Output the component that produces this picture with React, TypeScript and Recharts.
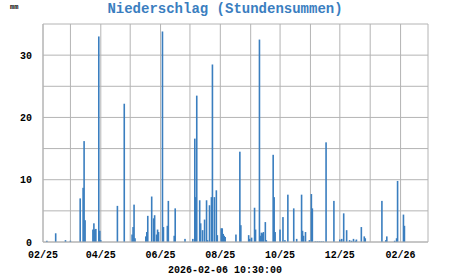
import React from "react";
import { BarChart, Bar, XAxis, YAxis, CartesianGrid } from "recharts";

// day offsets from 2025-02-01
const days = [
  4, 13, 23, 28, 38, 41, 42, 43, 51, 52, 53, 54, 57, 58, 59, 76, 83, 91, 92, 93, 94,
  105, 106, 107, 111, 113, 114, 116, 117, 118, 122, 123, 127, 128, 134, 135, 145,
  153, 155, 156, 157, 160, 161, 163, 165, 167, 168, 170, 172, 173, 175, 177, 178,
  182, 183, 184, 185, 186, 197, 201, 202, 210, 211, 213, 216, 217, 221, 222, 223,
  224, 225, 227, 228, 235, 236, 237, 242, 245, 247, 250, 256, 259, 264, 265, 266,
  268, 272, 274, 275, 278, 280, 282, 284, 286, 289, 297, 303, 305, 307, 310, 313,
  315, 317, 319, 320, 325, 328, 329, 346, 350, 351, 359, 361, 362, 368, 369,
];
const values = [
  0.2, 1.4, 0.3, 0.2, 7.0, 8.7, 16.2, 3.5, 2.0, 3.0, 2.0, 2.1, 33.0, 1.8, 0.3, 5.8, 22.2, 1.2, 2.4, 6.0, 0.6,
  0.9, 1.6, 4.2, 7.3, 3.8, 4.3, 1.2, 2.0, 1.6, 33.8, 2.4, 2.6, 6.6, 1.0, 5.4, 0.5,
  0.5, 16.6, 7.2, 23.5, 6.7, 3.0, 1.9, 3.6, 6.7, 0.3, 5.9, 7.2, 28.5, 7.2, 8.3, 1.1,
  2.2, 2.2, 1.3, 1.0, 0.8, 1.2, 14.5, 2.7, 1.1, 0.5, 0.7, 5.5, 2.0, 32.5, 1.0, 1.5,
  1.4, 1.6, 3.2, 0.3, 14.0, 7.2, 1.6, 2.0, 4.0, 0.3, 7.6, 5.4, 0.5, 7.6, 1.8, 1.0,
  1.6, 0.3, 7.7, 5.4, 0.1, 0.1, 0.1, 0.1, 0.1, 16.0, 6.6, 0.4, 0.5, 4.6, 1.9, 0.3,
  0.2, 0.5, 0.2, 0.4, 2.4, 0.9, 0.6, 6.6, 0.3, 0.9, 0.2, 0.6, 9.8, 4.4, 2.6,
];
// first day of each month, Feb 2025 .. Mar 2026
const monthTicks = [0, 28, 59, 89, 120, 150, 181, 212, 242, 273, 303, 334, 365, 393];
const monthLabels = ["02/25", "", "04/25", "", "06/25", "", "08/25", "", "10/25", "", "12/25", "", "02/26", ""];
const yTicks = [0, 5, 10, 15, 20, 25, 30, 35];
const yLabels = ["0", "", "10", "", "20", "", "30", ""];

const data = days.map((d, i) => ({ day: d, rain: values[i] }));

const mono = "'Liberation Mono', 'DejaVu Sans Mono', monospace";
const BAR_COLOR = "#3a7ebf";

const ThinBar = (props: any) => {
  const { x, y, width, height } = props;
  if (height == null || isNaN(height)) return null;
  const w = 1.6;
  const cx = x + width / 2;
  return <rect x={cx - w / 2} y={y} width={w} height={Math.max(height, 0)} fill={BAR_COLOR} />;
};

export default function App() {
  return (
    <div style={{ position: "absolute", left: 0, top: 0, width: 451, height: 275, background: "#fff" }}>
      <svg width={451} height={275} style={{ position: "absolute", left: 0, top: 0 }}>
        <text x={225} y={13} textAnchor="middle" fontFamily={mono} fontWeight="bold" fontSize={14} fill="#3a7ebf">
          Niederschlag (Stundensummen)
        </text>
        <text x={10} y={9} fontFamily={mono} fontWeight="bold" fontSize={7} fill="#000">mm</text>
        <text x={225} y={273} textAnchor="middle" fontFamily={mono} fontWeight="bold" fontSize={10} fill="#000">
          2026-02-06 10:30:00
        </text>
      </svg>
      <div style={{ position: "absolute", left: 0, top: 0 }}>
        <BarChart width={451} height={275} data={data} margin={{ top: 24, right: 23, bottom: 13, left: 0 }} barSize={1}>
          <CartesianGrid stroke="#b4b4b4" strokeWidth={1} verticalValues={monthTicks} horizontalValues={yTicks} />
          <XAxis
            type="number"
            dataKey="day"
            domain={[0, 393]}
            ticks={monthTicks}
            tickFormatter={(v: number) => monthLabels[monthTicks.indexOf(v)] ?? ""}
            interval={0}
            height={20}
            tickLine={false}
            axisLine={{ stroke: "#b4b4b4" }}
            tickMargin={3}
            tick={{ fontFamily: mono, fontWeight: "bold", fontSize: 10, fill: "#000" }}
            allowDataOverflow
          />
          <YAxis
            type="number"
            domain={[0, 35]}
            ticks={yTicks}
            tickFormatter={(v: number) => yLabels[yTicks.indexOf(v)] ?? ""}
            interval={0}
            width={43}
            tickLine={false}
            axisLine={{ stroke: "#b4b4b4" }}
            tickMargin={5}
            tick={{ fontFamily: mono, fontWeight: "bold", fontSize: 10, fill: "#000" }}
          />
          <Bar dataKey="rain" fill={BAR_COLOR} shape={ThinBar} isAnimationActive={false} />
        </BarChart>
      </div>
    </div>
  );
}
